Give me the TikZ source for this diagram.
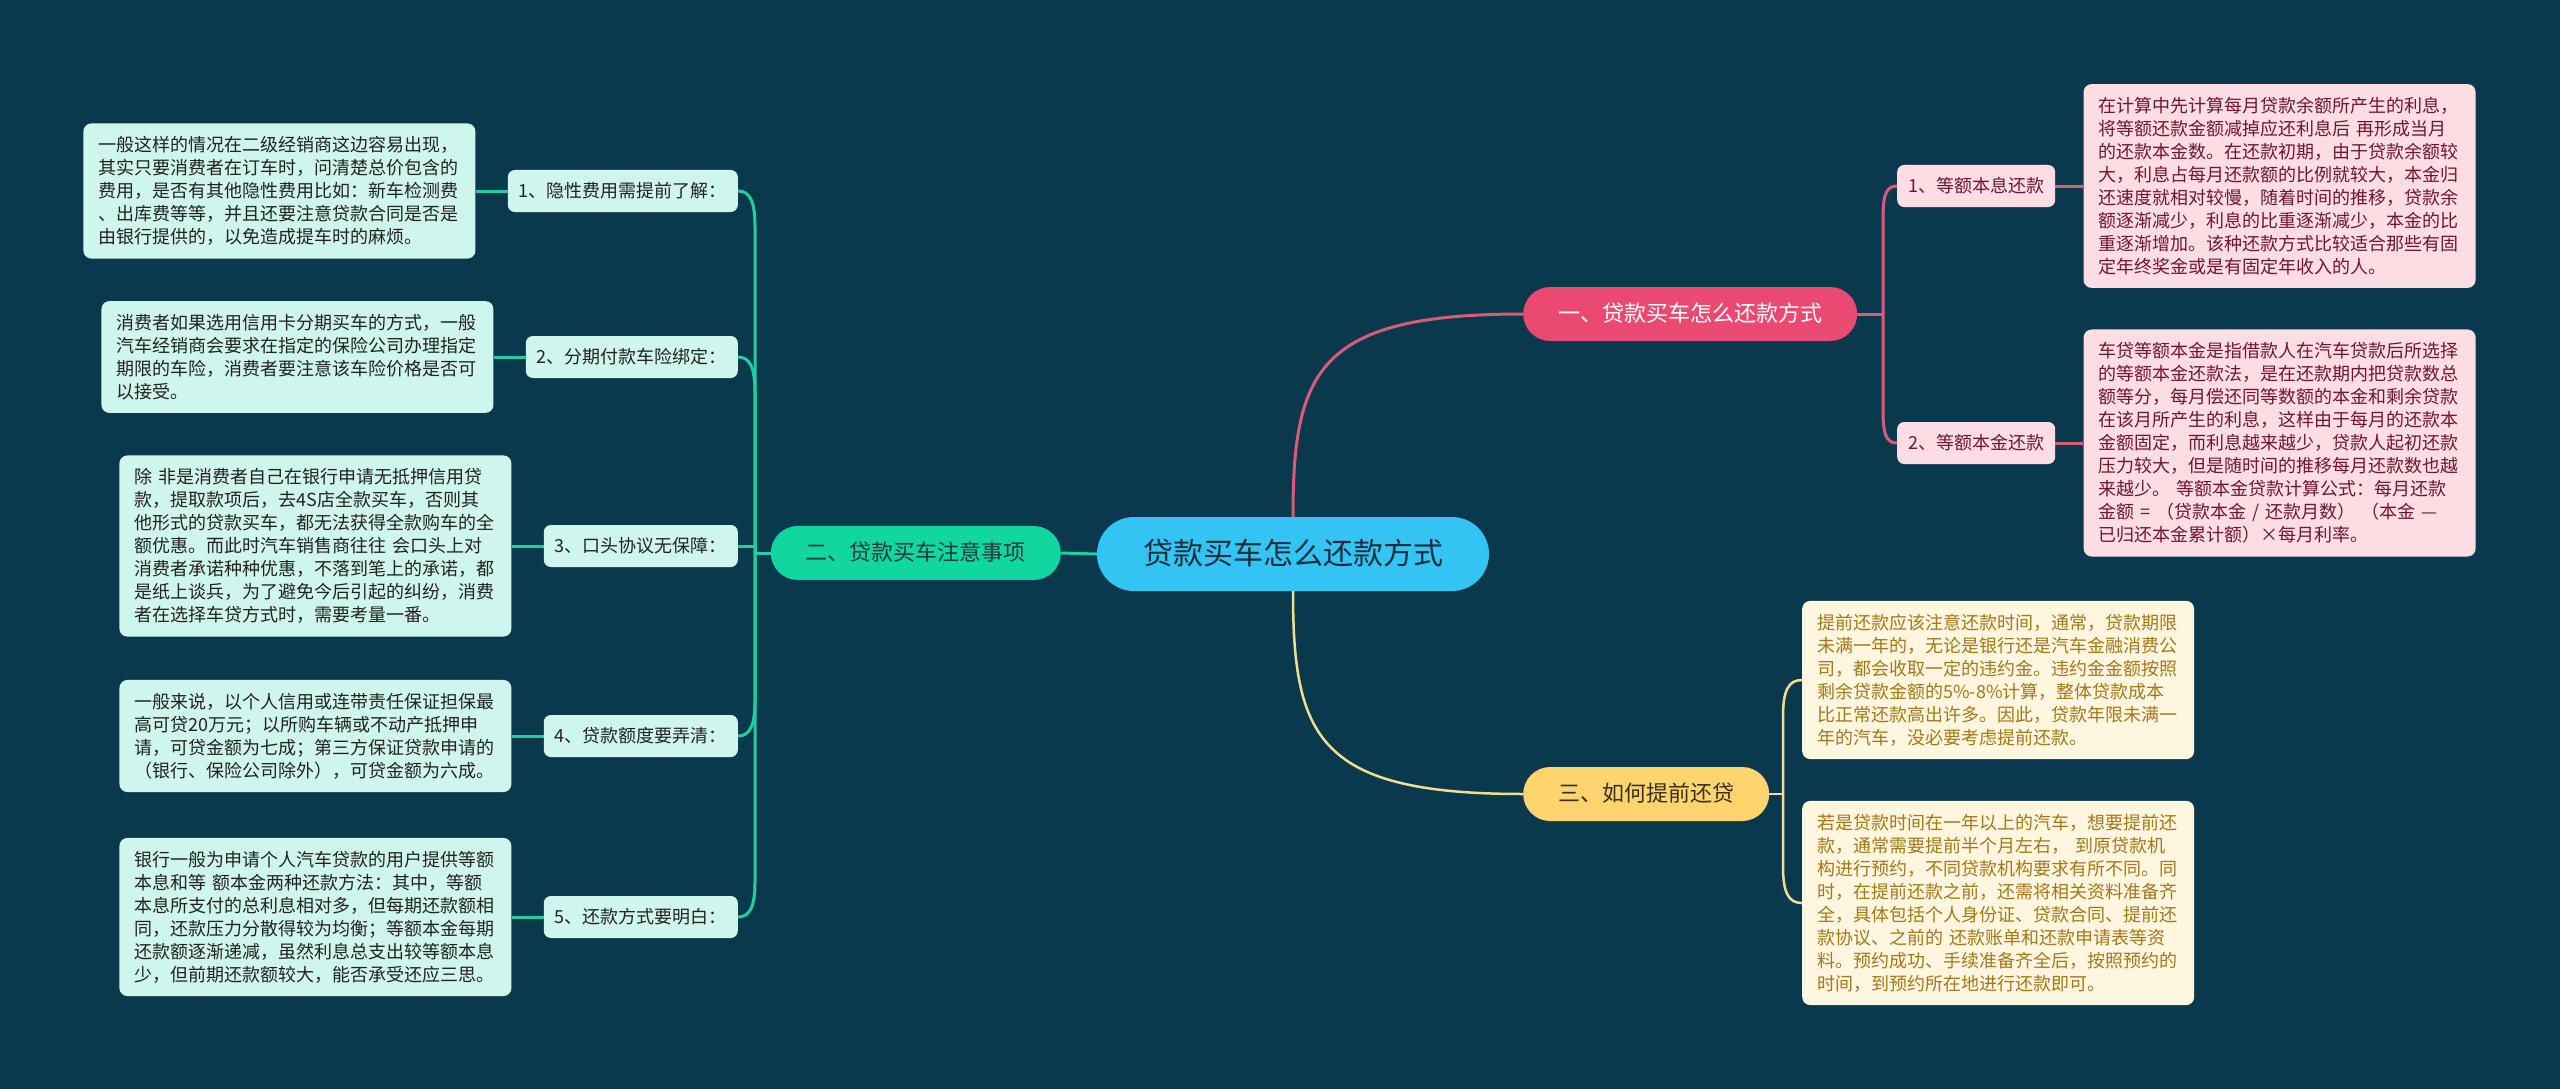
\documentclass[tikz,border=0pt]{standalone}
\usepackage{fontspec}
\newfontfamily\cjk{Noto Sans CJK SC}
\definecolor{bgc}{HTML}{0A394D}
\definecolor{cenfill}{HTML}{32C5F4}
\definecolor{centext}{HTML}{1C2E3D}
\definecolor{gmain}{HTML}{10D6A0}
\definecolor{gtextc}{HTML}{1F3A38}
\definecolor{gline}{HTML}{20CFA0}
\definecolor{gfill}{HTML}{CFF6EC}
\definecolor{gdark}{HTML}{222222}
\definecolor{pmain}{HTML}{EA4A71}
\definecolor{pline}{HTML}{DA5A7C}
\definecolor{pfill}{HTML}{FCDDE4}
\definecolor{pdark}{HTML}{6F1535}
\definecolor{ymain}{HTML}{FDD46D}
\definecolor{ymtext}{HTML}{3A3020}
\definecolor{yline}{HTML}{F3DD8E}
\definecolor{yfill}{HTML}{FFF6DF}
\definecolor{ydark}{HTML}{A37818}
\tikzset{
  every node/.style={font=\cjk},
  centerbox/.style={fill=cenfill, text=centext, rounded corners=37pt, inner xsep=46pt, inner ysep=22pt,
    text height=25.5pt, text depth=4.5pt, font=\cjk\fontsize{30}{36}\selectfont},
  mainbox/.style={rounded corners=27pt, inner xsep=35pt, inner ysep=16pt,
    text height=18.7pt, text depth=3.3pt, font=\cjk\fontsize{22}{26}\selectfont},
  subbox/.style={rounded corners=7pt, inner xsep=11pt, inner ysep=12pt,
    text height=15.3pt, text depth=2.7pt, font=\cjk\fontsize{18}{22}\selectfont},
  textbox/.style={rounded corners=8pt, inner xsep=15pt, inner ysep=13pt, text width=362pt,
    align=left, font=\cjk\fontsize{18}{23}\selectfont},
  gconn/.style={draw=gline, line width=3pt},
  pconn/.style={draw=pline, line width=3pt},
  yconn/.style={draw=yline, line width=2.5pt},
}
\begin{document}
\begin{tikzpicture}[x=1pt,y=-1pt]
\fill[bgc] (0,0) rectangle (2560,1089);
\useasboundingbox (0,0) rectangle (2560,1089);

% main nodes
\node[centerbox] (cen) at (1293,554) {贷款买车怎么还款方式};
\node[mainbox, fill=gmain, text=gtextc, anchor=east] (gm) at (1061,553) {二、贷款买车注意事项};
\node[mainbox, fill=pmain, text=white, anchor=west] (pm) at (1523,314) {一、贷款买车怎么还款方式};
\node[mainbox, fill=ymain, text=ymtext, anchor=west] (ym) at (1523,794) {三、如何提前还贷};

% green children
\node[subbox, fill=gfill, text=gdark, anchor=east] (c1) at (738,191) {1、隐性费用需提前了解：};
\node[subbox, fill=gfill, text=gdark, anchor=east] (c2) at (738,357) {2、分期付款车险绑定：};
\node[subbox, fill=gfill, text=gdark, anchor=east] (c3) at (738,546) {3、口头协议无保障：};
\node[subbox, fill=gfill, text=gdark, anchor=east] (c4) at (738,736) {4、贷款额度要弄清：};
\node[subbox, fill=gfill, text=gdark, anchor=east] (c5) at (738,917) {5、还款方式要明白：};

% green text boxes
\node[textbox, fill=gfill, text=gdark, anchor=east] (t1) at ([xshift=-32pt]c1.west) {一般这样的情况在二级经销商这边容易出现，\\其实只要消费者在订车时，问清楚总价包含的\\费用，是否有其他隐性费用比如：新车检测费\\、出库费等等，并且还要注意贷款合同是否是\\由银行提供的，以免造成提车时的麻烦。};
\node[textbox, fill=gfill, text=gdark, anchor=east] (t2) at ([xshift=-32pt]c2.west) {消费者如果选用信用卡分期买车的方式，一般\\汽车经销商会要求在指定的保险公司办理指定\\期限的车险，消费者要注意该车险价格是否可\\以接受。};
\node[textbox, fill=gfill, text=gdark, anchor=east] (t3) at ([xshift=-32pt]c3.west) {除 非是消费者自己在银行申请无抵押信用贷\\款，提取款项后，去4S店全款买车，否则其\\他形式的贷款买车，都无法获得全款购车的全\\额优惠。而此时汽车销售商往往 会口头上对\\消费者承诺种种优惠，不落到笔上的承诺，都\\是纸上谈兵，为了避免今后引起的纠纷，消费\\者在选择车贷方式时，需要考量一番。};
\node[textbox, fill=gfill, text=gdark, anchor=east] (t4) at ([xshift=-32pt]c4.west) {一般来说，以个人信用或连带责任保证担保最\\高可贷20万元；以所购车辆或不动产抵押申\\请，可贷金额为七成；第三方保证贷款申请的\\（银行、保险公司除外），可贷金额为六成。};
\node[textbox, fill=gfill, text=gdark, anchor=east] (t5) at ([xshift=-32pt]c5.west) {银行一般为申请个人汽车贷款的用户提供等额\\本息和等 额本金两种还款方法：其中，等额\\本息所支付的总利息相对多，但每期还款额相\\同，还款压力分散得较为均衡；等额本金每期\\还款额逐渐递减，虽然利息总支出较等额本息\\少，但前期还款额较大，能否承受还应三思。};

% pink children
\node[subbox, fill=pfill, text=pdark, anchor=west] (pc1) at (1897,186) {1、等额本息还款};
\node[subbox, fill=pfill, text=pdark, anchor=west] (pc2) at (1897,443) {2、等额本金还款};
\node[textbox, fill=pfill, text=pdark, anchor=west] (p1) at ([xshift=28pt]pc1.east) {在计算中先计算每月贷款余额所产生的利息，\\将等额还款金额减掉应还利息后 再形成当月\\的还款本金数。在还款初期，由于贷款余额较\\大，利息占每月还款额的比例就较大，本金归\\还速度就相对较慢，随着时间的推移，贷款余\\额逐渐减少，利息的比重逐渐减少，本金的比\\重逐渐增加。该种还款方式比较适合那些有固\\定年终奖金或是有固定年收入的人。};
\node[textbox, fill=pfill, text=pdark, anchor=west] (p2) at ([xshift=28pt]pc2.east) {车贷等额本金是指借款人在汽车贷款后所选择\\的等额本金还款法，是在还款期内把贷款数总\\额等分，每月偿还同等数额的本金和剩余贷款\\在该月所产生的利息，这样由于每月的还款本\\金额固定，而利息越来越少，贷款人起初还款\\压力较大，但是随时间的推移每月还款数也越\\来越少。 等额本金贷款计算公式：每月还款\\金额 = （贷款本金 / 还款月数） （本金 —\\已归还本金累计额）×每月利率。};

% yellow boxes
\node[textbox, fill=yfill, text=ydark, anchor=west] (y1) at (1802,680) {提前还款应该注意还款时间，通常，贷款期限\\未满一年的，无论是银行还是汽车金融消费公\\司，都会收取一定的违约金。违约金金额按照\\剩余贷款金额的5\%-8\%计算，整体贷款成本\\比正常还款高出许多。因此，贷款年限未满一\\年的汽车，没必要考虑提前还款。};
\node[textbox, fill=yfill, text=ydark, anchor=west] (y2) at (1802,903) {若是贷款时间在一年以上的汽车，想要提前还\\款，通常需要提前半个月左右， 到原贷款机\\构进行预约，不同贷款机构要求有所不同。同\\时，在提前还款之前，还需将相关资料准备齐\\全，具体包括个人身份证、贷款合同、提前还\\款协议、之前的 还款账单和还款申请表等资\\料。预约成功、手续准备齐全后，按照预约的\\时间，到预约所在地进行还款即可。};

% junction coordinates
\coordinate (gj) at (755,553);
\coordinate (pj) at (1883,314);
\coordinate (yj) at (1783,794);

% connectors: center to main
\draw[gconn] (cen.west) -- (gm.east);
\draw[pconn] (cen.north) .. controls (1293,370) and (1318,314) .. (pm.west);
\draw[yconn] (cen.south) .. controls (1293,738) and (1318,794) .. (ym.west);

% green branch
\draw[gconn] (gm.west) -- (gj);
\draw[gconn] (c1.east) .. controls +(12,0) and +(0,-24) .. (755,226) -- (gj);
\draw[gconn] (c2.east) .. controls +(12,0) and +(0,-24) .. (755,392) -- (gj);
\draw[gconn] (c3.east) -- (c3.east -| gj) -- (gj);
\draw[gconn] (c4.east) .. controls +(12,0) and +(0,24) .. (755,701) -- (gj);
\draw[gconn] (c5.east) .. controls +(12,0) and +(0,24) .. (755,882) -- (gj);
\draw[gconn] (c1.west) -- (t1.east);
\draw[gconn] (c2.west) -- (t2.east);
\draw[gconn] (c3.west) -- (t3.east);
\draw[gconn] (c4.west) -- (t4.east);
\draw[gconn] (c5.west) -- (t5.east);

% pink branch
\draw[pconn] (pm.east) -- (pj);
\draw[pconn] (pc1.west) .. controls +(-12,0) and +(0,-24) .. (1883,221) -- (pj);
\draw[pconn] (pc2.west) .. controls +(-12,0) and +(0,24) .. (1883,408) -- (pj);
\draw[pconn] (pc1.east) -- (p1.west);
\draw[pconn] (pc2.east) -- (p2.west);

% yellow branch
\draw[yconn] (ym.east) -- (yj);
\draw[yconn] (y1.west) .. controls +(-14,0) and +(0,-26) .. (1783,717) -- (yj);
\draw[yconn] (y2.west) .. controls +(-14,0) and +(0,26) .. (1783,866) -- (yj);
\end{tikzpicture}
\end{document}
